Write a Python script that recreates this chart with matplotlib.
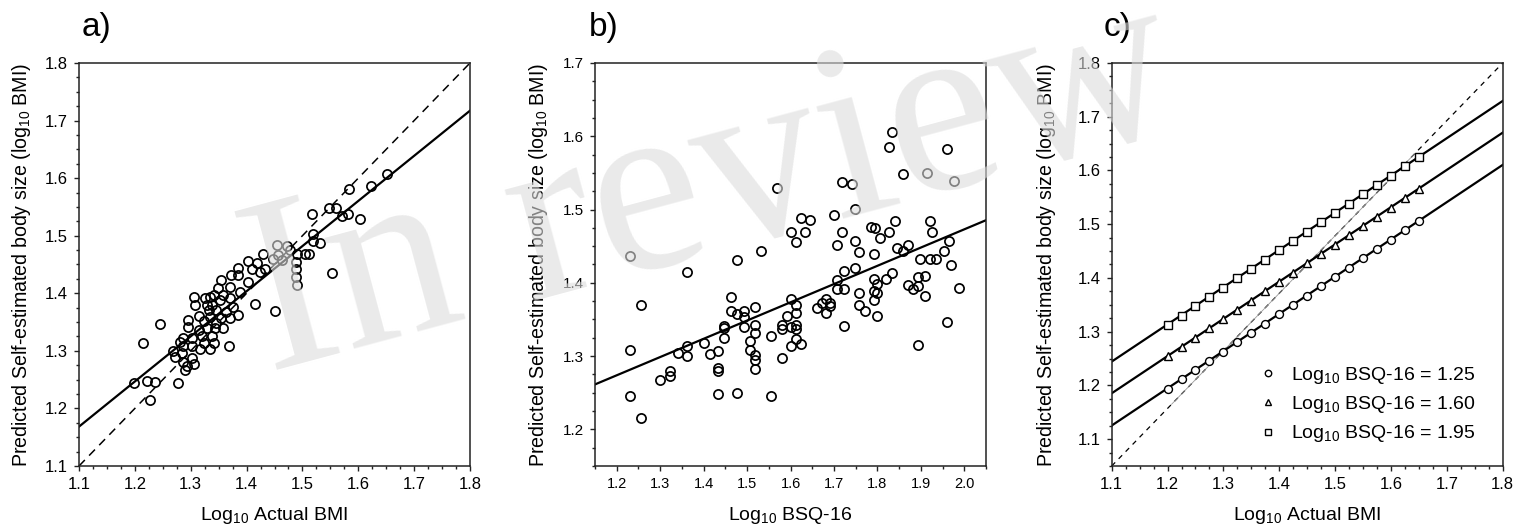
import matplotlib
matplotlib.use('Agg')
import matplotlib.pyplot as plt
from matplotlib.ticker import MultipleLocator
from matplotlib.lines import Line2D

plt.rcParams['font.family'] = ['Liberation Sans', 'DejaVu Sans']
plt.rcParams['mathtext.default'] = 'regular'

# ---------------- data ----------------
# panel a: actual vs predicted
a_x = [1.454, 1.472, 1.490, 1.505, 1.457, 1.430, 1.448, 1.463, 1.488, 1.488,
       1.488, 1.490, 1.403, 1.418, 1.385, 1.373, 1.385, 1.410, 1.433, 1.424,
       1.354, 1.370, 1.403, 1.388, 1.349, 1.341, 1.358, 1.335, 1.326, 1.306,
       1.308, 1.329, 1.338, 1.352, 1.370, 1.376, 1.346, 1.332, 1.364, 1.385,
       1.370, 1.355, 1.335, 1.314, 1.296, 1.323, 1.346, 1.358, 1.343, 1.329,
       1.296, 1.314, 1.338, 1.320, 1.302, 1.287, 1.281, 1.323, 1.341, 1.302,
       1.287, 1.317, 1.335, 1.269, 1.284, 1.272, 1.302, 1.287, 1.305, 1.293,
       1.290, 1.278, 1.236, 1.415, 1.451, 1.369, 1.245, 1.511, 1.477,
       1.198, 1.215, 1.221, 1.228, 1.518, 1.519, 1.519, 1.531, 1.548, 1.560,
       1.570, 1.581, 1.583, 1.603, 1.553, 1.622, 1.651]
a_y = [1.484, 1.483, 1.469, 1.468, 1.466, 1.468, 1.459, 1.458, 1.455, 1.443,
       1.429, 1.414, 1.456, 1.452, 1.444, 1.432, 1.432, 1.442, 1.442, 1.437,
       1.423, 1.411, 1.420, 1.403, 1.409, 1.397, 1.397, 1.394, 1.391, 1.393,
       1.380, 1.380, 1.380, 1.388, 1.391, 1.377, 1.371, 1.371, 1.368, 1.362,
       1.357, 1.357, 1.359, 1.361, 1.354, 1.351, 1.348, 1.339, 1.339, 1.339,
       1.341, 1.336, 1.326, 1.325, 1.322, 1.322, 1.316, 1.313, 1.313, 1.308,
       1.308, 1.304, 1.304, 1.299, 1.297, 1.289, 1.287, 1.281, 1.278, 1.273,
       1.267, 1.245, 1.246, 1.381, 1.370, 1.308, 1.346, 1.469, 1.476,
       1.245, 1.313, 1.248, 1.214, 1.538, 1.503, 1.491, 1.488, 1.549, 1.548,
       1.535, 1.538, 1.581, 1.529, 1.436, 1.586, 1.607]
a_fit = (0.306, 0.784)   # intercept, slope

# panel b: BSQ-16 vs predicted
b_x = [1.231, 1.231, 1.231, 1.255, 1.255, 1.361, 1.361, 1.361, 1.300, 1.323,
       1.323, 1.342, 1.400, 1.415, 1.432, 1.432, 1.432, 1.432, 1.446, 1.446,
       1.447, 1.463, 1.463, 1.476, 1.478, 1.478, 1.492, 1.492, 1.492, 1.506,
       1.506, 1.519, 1.519, 1.519, 1.519, 1.519, 1.519, 1.532, 1.556, 1.556,
       1.569, 1.580, 1.580, 1.580, 1.592, 1.602, 1.602, 1.602, 1.602, 1.613,
       1.613, 1.613, 1.613, 1.613, 1.613, 1.624, 1.624, 1.634, 1.644, 1.662,
       1.672, 1.682, 1.682, 1.691, 1.691, 1.699, 1.708, 1.707, 1.708, 1.718,
       1.718, 1.724, 1.724, 1.724, 1.741, 1.748, 1.748, 1.748, 1.757, 1.757,
       1.757, 1.771, 1.786, 1.794, 1.793, 1.793, 1.793, 1.793, 1.800, 1.800,
       1.800, 1.807, 1.820, 1.826, 1.827, 1.833, 1.833, 1.840, 1.845, 1.858,
       1.858, 1.870, 1.870, 1.882, 1.893, 1.893, 1.893, 1.897, 1.909, 1.909,
       1.914, 1.920, 1.920, 1.925, 1.935, 1.954, 1.960, 1.960, 1.964, 1.969,
       1.976, 1.987]
b_y = [1.436, 1.308, 1.245, 1.370, 1.215, 1.415, 1.314, 1.300, 1.267, 1.280,
       1.273, 1.304, 1.318, 1.303, 1.307, 1.284, 1.280, 1.248, 1.341, 1.339,
       1.325, 1.380, 1.361, 1.357, 1.431, 1.249, 1.361, 1.354, 1.340, 1.320,
       1.308, 1.367, 1.343, 1.332, 1.302, 1.295, 1.282, 1.443, 1.327, 1.245,
       1.530, 1.343, 1.337, 1.298, 1.355, 1.470, 1.378, 1.340, 1.314, 1.456,
       1.370, 1.359, 1.343, 1.337, 1.323, 1.488, 1.316, 1.469, 1.486, 1.365,
       1.373, 1.378, 1.359, 1.373, 1.368, 1.492, 1.452, 1.404, 1.391, 1.469,
       1.538, 1.416, 1.392, 1.341, 1.535, 1.501, 1.457, 1.420, 1.442, 1.386,
       1.370, 1.361, 1.476, 1.475, 1.439, 1.405, 1.389, 1.377, 1.398, 1.386,
       1.355, 1.461, 1.405, 1.586, 1.469, 1.606, 1.413, 1.485, 1.447, 1.549,
       1.444, 1.451, 1.397, 1.391, 1.408, 1.396, 1.315, 1.432, 1.409, 1.382,
       1.550, 1.484, 1.432, 1.469, 1.432, 1.444, 1.582, 1.347, 1.457, 1.424,
       1.539, 1.393]
b_fit = (0.975, 0.249)

# panel c: model predictions for three BSQ-16 levels
c_x = [1.200, 1.225, 1.250, 1.275, 1.300, 1.325, 1.350, 1.375, 1.400, 1.425,
       1.450, 1.475, 1.500, 1.525, 1.550, 1.575, 1.600, 1.625, 1.650]
c_y_125 = [1.194, 1.211, 1.229, 1.246, 1.263, 1.281, 1.298, 1.315, 1.333, 1.350,
           1.367, 1.385, 1.402, 1.419, 1.437, 1.454, 1.471, 1.489, 1.506]
c_y_160 = [1.254, 1.271, 1.289, 1.306, 1.323, 1.341, 1.358, 1.375, 1.393, 1.410,
           1.427, 1.445, 1.462, 1.479, 1.497, 1.514, 1.531, 1.549, 1.566]
c_y_195 = [1.313, 1.330, 1.348, 1.365, 1.382, 1.400, 1.417, 1.434, 1.452, 1.469,
           1.486, 1.504, 1.521, 1.538, 1.556, 1.573, 1.590, 1.608, 1.625]
c_fits = [(0.363, 0.693), (0.423, 0.693), (0.482, 0.693)]
c_labels = ['1.25', '1.60', '1.95']
c_markers = ['o', '^', 's']

# ---------------- figure ----------------
W, H = 1533, 531
fig = plt.figure(figsize=(W / 100, H / 100), dpi=100)

def add_ax(left_px):
    return fig.add_axes([left_px / W, 1 - 466 / H, 391 / W, 403 / H])

axa = add_ax(79)
axb = add_ax(595)
axc = add_ax(1111.7)

def style(ax, xlabsize=12, ylabsize=12):
    for s in ax.spines.values():
        s.set_linewidth(1.1)
        s.set_color('#222222')
    ax.tick_params(which='both', direction='out', top=False, right=False,
                   color='#222222', width=1.0)
    ax.tick_params(which='major', length=3.8, pad=4)
    ax.tick_params(which='minor', length=2.2)
    ax.tick_params(axis='x', labelsize=xlabsize)
    ax.tick_params(axis='y', labelsize=ylabsize)

pt_kw = dict(linestyle='none', marker='o', ms=6.6, mfc='none', mec='black', mew=1.25)

# panel a
axa.plot([0, 1], [0, 1], transform=axa.transAxes, color='black', lw=1.1,
         linestyle=(0, (5.5, 4)), zorder=1)
axa.axline((0, a_fit[0]), slope=a_fit[1], color='black', lw=1.6, zorder=2)
axa.plot(a_x, a_y, zorder=3, **pt_kw)
axa.set_xlim(1.1, 1.8)
axa.set_ylim(1.1, 1.8)
axa.xaxis.set_major_locator(MultipleLocator(0.1))
axa.xaxis.set_minor_locator(MultipleLocator(0.025))
axa.yaxis.set_major_locator(MultipleLocator(0.1))
axa.yaxis.set_minor_locator(MultipleLocator(0.025))
style(axa)

# panel b
axb.axline((0, b_fit[0]), slope=b_fit[1], color='black', lw=1.6, zorder=2)
axb.plot(b_x, b_y, zorder=3, **pt_kw)
axb.set_xlim(1.15, 2.05)
axb.set_ylim(1.15, 1.7)
axb.xaxis.set_major_locator(MultipleLocator(0.1))
axb.xaxis.set_minor_locator(MultipleLocator(0.05))
axb.yaxis.set_major_locator(MultipleLocator(0.1))
axb.yaxis.set_minor_locator(MultipleLocator(0.025))
style(axb, xlabsize=10.5, ylabsize=11)

# panel c
axc.plot([0, 1], [0, 1], transform=axc.transAxes, color='black', lw=0.9,
         linestyle=(0, (4, 4)), zorder=1)
axc.plot([0.153, 0.776], [0.153, 0.776], transform=axc.transAxes,
         color='#9a9a9a', lw=0.6, zorder=1)
handles = []
for (b0, b1), ys, mk, lab in zip(c_fits, [c_y_125, c_y_160, c_y_195], c_markers, c_labels):
    axc.axline((0, b0), slope=b1, color='black', lw=1.6, zorder=2)
    ms = {'o': 5.7, '^': 6.3, 's': 5.3}[mk]
    axc.plot(c_x, ys, linestyle='none', marker=mk, ms=ms, mfc='white',
             mec='black', mew=1.0, zorder=3)
    lms = {'o': 4.6, '^': 5.0, 's': 4.2}[mk]
    handles.append(Line2D([], [], linestyle='none', marker=mk, ms=lms, mfc='white',
                          mec='black', mew=1.0,
                          label='Log$_{10}$ BSQ-16 = ' + lab))
axc.legend(handles=handles, loc='center left', bbox_to_anchor=(0.375, 0.152),
           frameon=False, fontsize=14, handlelength=1.0, handletextpad=0.7,
           labelspacing=0.42, borderpad=0, borderaxespad=0)
axc.set_xlim(1.1, 1.8)
axc.set_ylim(1.05, 1.8)
axc.xaxis.set_major_locator(MultipleLocator(0.1))
axc.xaxis.set_minor_locator(MultipleLocator(0.025))
axc.yaxis.set_major_locator(MultipleLocator(0.1))
axc.yaxis.set_minor_locator(MultipleLocator(0.025))
style(axc)

# labels
ylab = 'Predicted Self-estimated body size (log$_{10}$ BMI)'
for xc in (22, 538, 1047):
    fig.text(xc / W, 1 - 264.5 / H, ylab, rotation=90, ha='center', va='center',
             fontsize=14.1)
xlabs = ['Log$_{10}$ Actual BMI', 'Log$_{10}$ BSQ-16', 'Log$_{10}$ Actual BMI']
for ax_left, lab in zip((79, 595, 1111.7), xlabs):
    fig.text((ax_left + 195.5) / W, 1 - 516 / H, lab, ha='center', va='center',
             fontsize=14)
for xl, lab in zip((82, 589, 1104), ('a)', 'b)', 'c)')):
    fig.text(xl / W, 1 - 36 / H, lab, ha='left', va='baseline', fontsize=24)

# watermark
fig.text(268 / W, 1 - 372 / H, 'In review', rotation=15, rotation_mode='anchor',
         ha='left', va='baseline', fontsize=180, color='#dcdcdc', alpha=0.6,
         family=['Liberation Serif', 'DejaVu Serif'], zorder=10)

fig.savefig('out.png', dpi=100, facecolor='white')
